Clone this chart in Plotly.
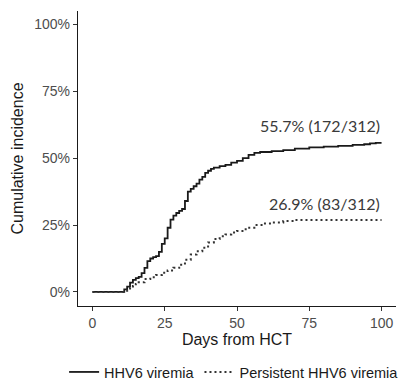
import plotly.graph_objects as go

# Cumulative incidence (%) by days from HCT
solid_days = [0, 11, 12, 13, 14, 15, 16, 17, 18, 19, 20, 21, 22, 23, 24, 25, 26, 27, 28, 29,
              30, 31, 32, 33, 34, 35, 36, 37, 38, 39, 40, 41, 42, 44, 46, 48, 50, 52, 54, 56,
              58, 62, 66, 70, 75, 80, 85, 90, 94, 96, 98, 100]
solid_inc = [0, 1.0, 2.0, 3.5, 4.5, 5.2, 5.6, 7, 9, 11.5, 12.5, 13, 13.4, 15, 18, 20, 24, 27, 28.5, 29.5,
             30.3, 31, 34, 37.5, 38.5, 39.5, 40.5, 42, 43, 44.5, 45.3, 46, 46.5, 47, 47.5, 48.3, 49, 50, 51.2, 52,
             52.3, 52.6, 53, 53.6, 54, 54.3, 54.6, 55, 55.2, 55.5, 55.7, 55.7]

dot_days = [0, 12, 13, 14, 15, 16, 18, 20, 22, 24, 26, 28, 30, 32, 34, 36, 38, 40, 42, 44,
            46, 48, 50, 53, 56, 59, 62, 66, 70, 100]
dot_inc = [0, 0.6, 1.5, 2.2, 3, 3.6, 4.8, 5.5, 6.3, 7.2, 8, 9, 10.2, 12, 14, 15.2, 16.5, 18.5, 19.8, 20.8,
           21.5, 22.2, 22.8, 24, 25, 25.6, 26, 26.5, 26.9, 26.9]

series_names = ["HHV6 viremia", "Persistent HHV6 viremia"]
end_labels = ["55.7% (172/312)", "26.9% (83/312)"]
label_y = [62.3, 33.2]

x_ticks = [0, 25, 50, 75, 100]
y_ticks = [0, 25, 50, 75, 100]
y_ticktext = ["0%", "25%", "50%", "75%", "100%"]

fig = go.Figure()
fig.add_trace(go.Scatter(x=solid_days, y=solid_inc, mode="lines", name=series_names[0],
                         line=dict(color="#1a1a1a", width=1.8, shape="hv")))
fig.add_trace(go.Scatter(x=dot_days, y=dot_inc, mode="lines", name=series_names[1],
                         line=dict(color="#333333", width=2, shape="hv", dash="2px,3px")))

for txt, yy in zip(end_labels, label_y):
    fig.add_annotation(x=100, y=yy, text=txt, showarrow=False, xanchor="right", yanchor="middle",
                       font=dict(family="Lato", size=16, color="#3a3a3a"))

axis_common = dict(showline=True, linecolor="#1a1a1a", linewidth=1.3, ticks="outside", ticklen=4,
                   tickwidth=1, tickcolor="#333333", showgrid=False, zeroline=False,
                   tickfont=dict(family="Liberation Sans", size=14, color="#4d4d4d"))

fig.update_layout(
    width=401, height=383,
    margin=dict(l=78, r=5, t=11, b=77, autoexpand=False),
    paper_bgcolor="white", plot_bgcolor="white",
    xaxis=dict(range=[-5, 105], tickvals=x_ticks,
               title=dict(text="Days from HCT", standoff=2,
                          font=dict(family="Liberation Sans", size=16, color="#1a1a1a")),
               **axis_common),
    yaxis=dict(range=[-5.25, 105], tickvals=y_ticks, ticktext=y_ticktext,
               title=dict(text="Cumulative incidence", standoff=6,
                          font=dict(family="Liberation Sans", size=16, color="#1a1a1a")),
               **axis_common),
    legend=dict(orientation="h", x=-0.0437, xanchor="left", y=-0.278, yanchor="bottom",
                font=dict(family="Liberation Sans", size=14.5, color="#1a1a1a"),
                bgcolor="rgba(0,0,0,0)", itemwidth=30),
    showlegend=True,
)

fig.write_html("out.html", config={"displayModeBar": False},
               post_script="document.body.style.margin='0';")
